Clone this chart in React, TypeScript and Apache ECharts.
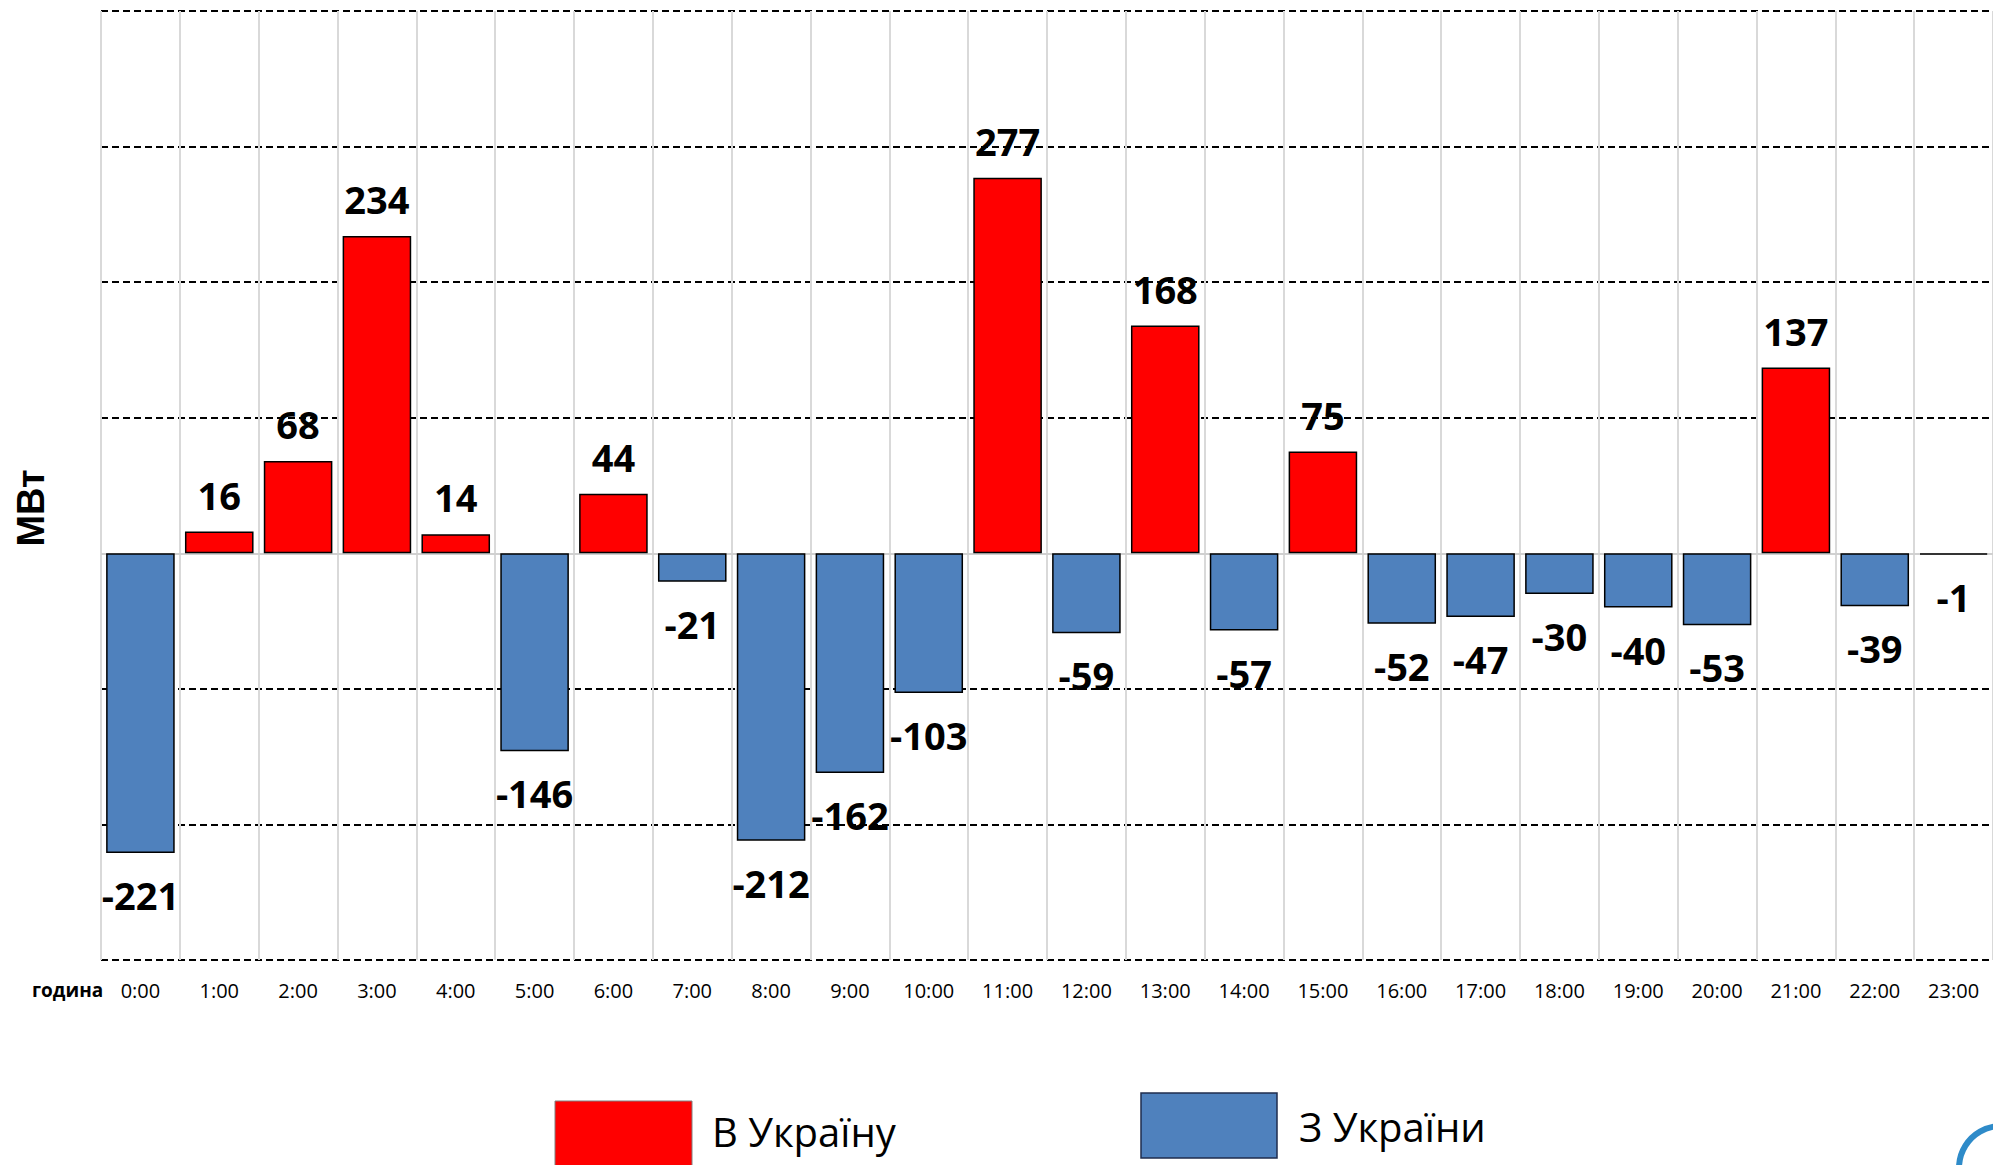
import React, { useEffect, useRef } from "react";
import * as echarts from "echarts";

const hours = [
  "0:00", "1:00", "2:00", "3:00", "4:00", "5:00", "6:00", "7:00", "8:00", "9:00", "10:00", "11:00",
  "12:00", "13:00", "14:00", "15:00", "16:00", "17:00", "18:00", "19:00", "20:00", "21:00", "22:00", "23:00",
];

const toUkraine = [
  null, 16, 68, 234, 14, null, 44, null, null, null, null, 277,
  null, 168, null, 75, null, null, null, null, null, 137, null, null,
];

const fromUkraine = [
  -221, null, null, null, null, -146, null, -21, -212, -162, -103, null,
  -59, null, -57, null, -52, -47, -30, -40, -53, null, -39, -1,
];

const yMin = -300;
const yMax = 400;
const yStep = 100;

const seriesNames = ["В Україну", "З України"];
const axisName = "МВт";
const xName = "година";

export default function App() {
  const ref = useRef<HTMLDivElement>(null);

  useEffect(() => {
    if (!ref.current) return;
    const chart = echarts.init(ref.current, null, { renderer: "svg" });
    const labelStyle = {
      show: true,
      fontFamily: "Open Sans",
      fontWeight: "bold" as const,
      fontSize: 38,
      color: "#000",
    };
    chart.setOption({
      animation: false,
      backgroundColor: "#fff",
      grid: { left: 101, right: 0, top: 11, bottom: 205, containLabel: false },
      xAxis: {
        type: "category",
        data: hours,
        position: "bottom",
        axisLine: { show: false, onZero: false },
        axisTick: { show: false },
        axisLabel: {
          interval: 0,
          fontFamily: "Open Sans",
          fontSize: 20,
          color: "#000",
          margin: 20,
        },
        splitLine: {
          show: true,
          interval: 0,
          lineStyle: { color: "#d9d9d9", width: 2 },
        },
      },
      yAxis: {
        type: "value",
        min: yMin,
        max: yMax,
        interval: yStep,
        axisLine: { show: false },
        axisTick: { show: false },
        axisLabel: { show: false },
        splitLine: {
          show: true,
          lineStyle: {
            color: ["#000", "#000", "#000", "rgba(0,0,0,0)", "#000", "#000", "#000", "#000"],
            width: 2,
            type: [7, 4],
          },
        },
      },
      series: [
        {
          name: seriesNames[0],
          type: "bar",
          z: 2,
          data: toUkraine,
          barGap: "-100%",
          barCategoryGap: "13%",
          itemStyle: { color: "#ff0000", borderColor: "#000", borderWidth: 1.5 },
          label: { ...labelStyle, position: "top", distance: 18 },
          markLine: {
            silent: true,
            z: 1,
            symbol: "none",
            label: { show: false },
            lineStyle: { color: "#d0d0d0", width: 2, type: "solid" },
            data: [{ yAxis: 0 }],
          },
        },
        {
          name: seriesNames[1],
          type: "bar",
          z: 3,
          data: fromUkraine,
          barGap: "-100%",
          barCategoryGap: "13%",
          itemStyle: { color: "#4f81bd", borderColor: "#000", borderWidth: 1.5 },
          label: { ...labelStyle, position: "bottom", distance: 23 },
        },
      ],
      graphic: [
        {
          type: "text",
          x: 31,
          y: 508,
          rotation: Math.PI / 2,
          style: {
            text: axisName,
            fontFamily: "Liberation Sans",
            fontWeight: "bold",
            fontSize: 38,
            fill: "#000",
            textAlign: "center",
            textVerticalAlign: "middle",
          },
        },
        {
          type: "text",
          x: 32,
          y: 990,
          style: {
            text: xName,
            fontFamily: "Open Sans",
            fontWeight: "bold",
            fontSize: 19,
            fill: "#000",
            textAlign: "left",
            textVerticalAlign: "middle",
          },
        },
        {
          type: "rect",
          shape: { x: 555, y: 1101, width: 137, height: 70 },
          style: { fill: "#ff0000", stroke: "#808080", lineWidth: 1 },
        },
        {
          type: "text",
          x: 712,
          y: 1131,
          style: {
            text: seriesNames[0],
            fontFamily: "Open Sans",
            fontSize: 40,
            fill: "#000",
            textAlign: "left",
            textVerticalAlign: "middle",
          },
        },
        {
          type: "rect",
          shape: { x: 1141, y: 1093, width: 136, height: 65 },
          style: { fill: "#4f81bd", stroke: "#1f2d4d", lineWidth: 1.5 },
        },
        {
          type: "text",
          x: 1299,
          y: 1126,
          style: {
            text: seriesNames[1],
            fontFamily: "Open Sans",
            fontSize: 40,
            fill: "#000",
            textAlign: "left",
            textVerticalAlign: "middle",
          },
        },
        {
          type: "circle",
          shape: { cx: 2001, cy: 1168, r: 42 },
          style: { fill: "#fff", stroke: "#2e8bc9", lineWidth: 6 },
        },
      ],
    });
    return () => chart.dispose();
  }, []);

  return (
    <div
      ref={ref}
      style={{ position: "fixed", left: 0, top: 0, width: 1993, height: 1165 }}
    />
  );
}
